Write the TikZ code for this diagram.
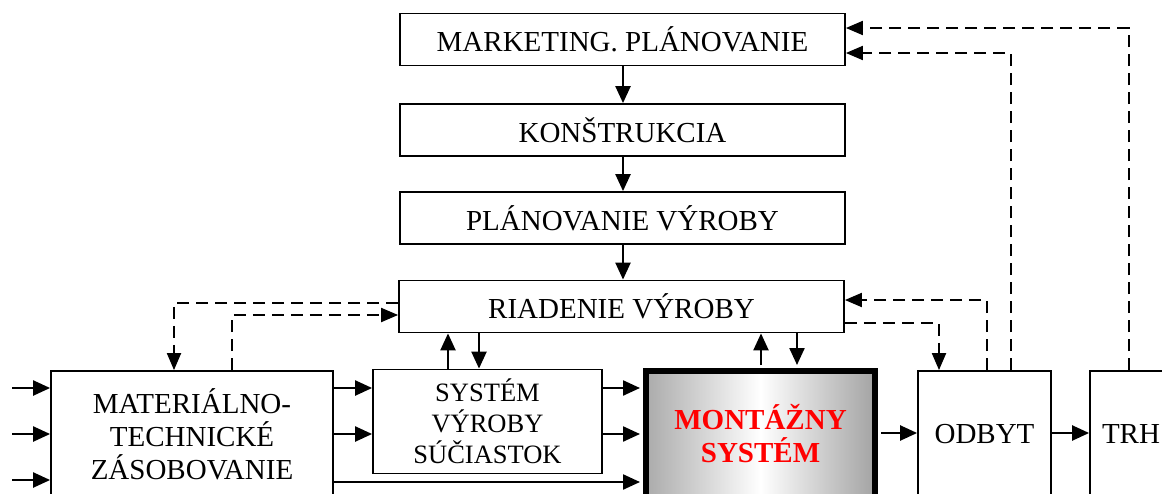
\documentclass[tikz,border=0pt]{standalone}
\usepackage{fontspec}
\setmainfont{Liberation Serif}
\usetikzlibrary{arrows.meta}
\begin{document}
\begin{tikzpicture}[x=1pt,y=-1pt,
  block/.style={draw, line width=1.8pt, inner sep=0pt, align=center,
    font=\fontsize{29}{33}\selectfont},
  wide/.style={block, minimum width=445pt, minimum height=52pt},
  arr/.style={line width=2.3pt, -{Triangle[length=17pt,width=15pt]}},
  fb/.style={line width=2pt, dash pattern=on 12pt off 7pt,
    -{Triangle[length=17pt,width=14pt]}}]
\useasboundingbox (0,0) rectangle (1162,493);
\clip (0,0) rectangle (1162,493);

% planning chain
\node[wide] (mark) at (622.5,39.5) {MARKETING. PLÁNOVANIE};
\node[wide] (kons) at (622.5,130) {KONŠTRUKCIA};
\node[wide] (plan) at (622.5,218) {PLÁNOVANIE VÝROBY};
\node[wide] (riad) at (621.5,306.5) {RIADENIE VÝROBY};

% production row
\node[block, minimum width=282pt, minimum height=126pt] (mat) at (192,434)
  {MATERIÁLNO-\\TECHNICKÉ\\ZÁSOBOVANIE};
\node[block, minimum width=229pt, minimum height=104pt,
  font=\fontsize{26.5}{31}\selectfont] (sys) at (487.5,421.5)
  {SYSTÉM\\VÝROBY\\SÚČIASTOK};
\node[block, line width=6pt, minimum width=229pt, minimum height=126pt,
  left color=black!33, right color=black!36, middle color=white,
  text=red, font=\fontsize{29}{33}\selectfont\bfseries] (mont) at (760.5,434)
  {MONTÁŽNY\\SYSTÉM};
\node[block, minimum width=133pt, minimum height=126pt] (odbyt) at (984.5,434) {ODBYT};
\node[block, minimum width=82pt, minimum height=126pt] (trh) at (1131,434) {TRH};

% material inputs
\coordinate (in1) at (12,388);
\coordinate (in2) at (12,434);
\coordinate (in3) at (12,480);
\draw[arr] (in1) -- (in1 -| mat.west);
\draw[arr] (in2) -- (in2 -| mat.west);
\draw[arr] (in3) -- (in3 -| mat.west);

% material flow
\draw[arr] (mat.east |- 0,388) -- (sys.west |- 0,388);
\draw[arr] (mat.east |- 0,434) -- (sys.west |- 0,434);
\draw[arr, shorten >=3pt] (mat.east |- 0,482) -- (mont.west |- 0,482);
\draw[arr, shorten >=3pt] (sys.east |- 0,388) -- (mont.west |- 0,388);
\draw[arr, shorten >=3pt] (sys.east |- 0,434) -- (mont.west |- 0,434);
\draw[arr, shorten <=3pt] (mont.east |- 0,433) -- (odbyt.west |- 0,433);
\draw[arr] (odbyt.east |- 0,433) -- (trh.west |- 0,433);

% planning flow
\draw[arr] (mark.south -| 623,0) -- (kons.north -| 623,0);
\draw[arr] (kons.south -| 623,0) -- (plan.north -| 623,0);
\draw[arr] (plan.south -| 623,0) -- (riad.north -| 623,0);

% control links
\draw[arr] (sys.north -| 448,0) -- (riad.south -| 448,0);
\draw[arr] (riad.south -| 479,0) -- (sys.north -| 479,0);
\draw[arr, shorten <=3pt] (mont.north -| 761,0) -- (riad.south -| 761,0);
\draw[arr, shorten >=3pt] (riad.south -| 797,0) -- (mont.north -| 797,0);

% feedback (dashed)
\draw[fb] (riad.west |- 0,303) -| (mat.north -| 174,0);
\draw[fb] (mat.north -| 232,0) |- (riad.west |- 0,315);
\draw[fb] (odbyt.north -| 987,0) |- (riad.east |- 0,300);
\draw[fb] (riad.east |- 0,323) -| (odbyt.north -| 939,0);
\draw[fb] (odbyt.north -| 1011,0) |- (mark.east |- 0,53);
\draw[fb] (trh.north -| 1129,0) |- (mark.east |- 0,28);
\end{tikzpicture}
\end{document}
